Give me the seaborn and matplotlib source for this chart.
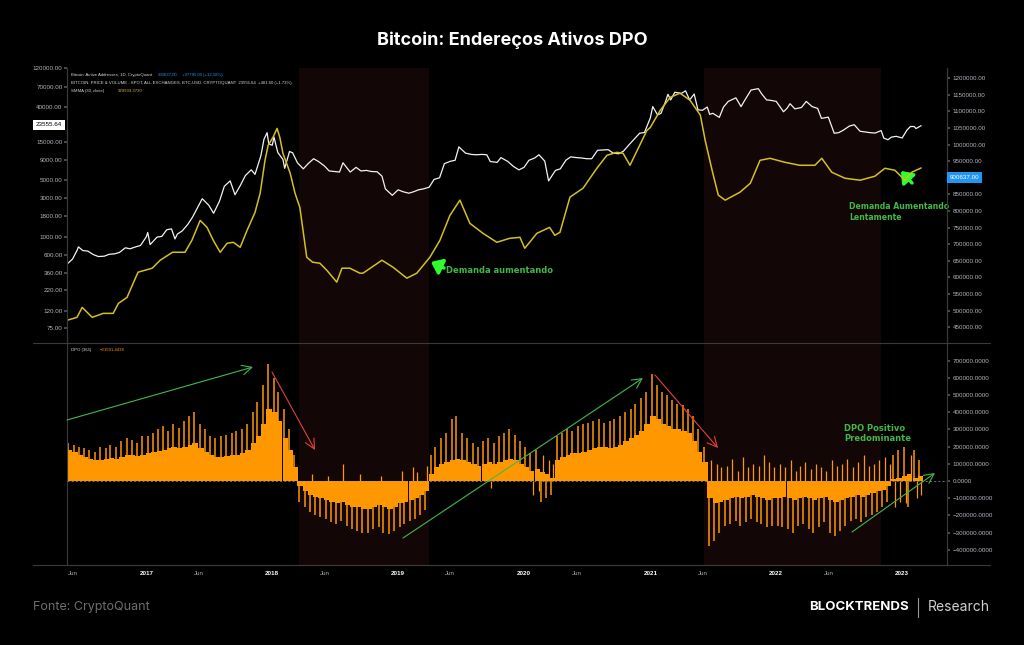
import numpy as np
import pandas as pd
import matplotlib
matplotlib.use("Agg")
import matplotlib.pyplot as plt
import matplotlib.dates as mdates
import matplotlib.ticker as mticker
from matplotlib.lines import Line2D
import seaborn as sns

# --- BTC price (white line, left log axis) ---
price_dates = [
    "2016-05-15", "2016-06-01", "2016-06-15", "2016-06-18", "2016-07-01", "2016-07-15", "2016-08-01", "2016-08-15",
    "2016-09-01", "2016-09-15", "2016-10-01", "2016-10-15", "2016-11-01", "2016-11-15", "2016-12-01", "2016-12-15",
    "2017-01-01", "2017-01-05", "2017-01-12", "2017-02-01", "2017-02-15", "2017-03-01", "2017-03-15", "2017-03-25",
    "2017-04-01", "2017-04-15", "2017-05-01", "2017-05-15", "2017-06-01", "2017-06-12", "2017-07-01", "2017-07-15",
    "2017-08-01", "2017-08-15", "2017-09-01", "2017-09-15", "2017-10-01", "2017-10-15", "2017-11-01", "2017-11-12",
    "2017-11-29", "2017-12-08", "2017-12-17", "2017-12-22",
    "2018-01-01", "2018-01-06", "2018-01-17", "2018-02-01", "2018-02-06", "2018-02-20", "2018-03-01", "2018-03-15",
    "2018-04-01", "2018-04-15", "2018-05-01", "2018-05-15", "2018-06-01", "2018-06-15", "2018-07-01", "2018-07-15",
    "2018-07-25", "2018-08-15", "2018-09-01", "2018-09-15", "2018-10-01", "2018-10-15", "2018-11-01", "2018-11-15",
    "2018-11-25", "2018-12-15",
    "2019-01-01", "2019-01-15", "2019-02-01", "2019-02-15", "2019-03-01", "2019-03-15", "2019-04-01", "2019-04-15",
    "2019-05-01", "2019-05-15", "2019-06-01", "2019-06-15", "2019-06-26", "2019-07-15", "2019-08-01", "2019-08-15",
    "2019-09-01", "2019-09-15", "2019-09-25", "2019-10-15", "2019-10-26", "2019-11-15", "2019-12-01", "2019-12-17",
    "2020-01-01", "2020-01-15", "2020-02-01", "2020-02-13", "2020-03-01", "2020-03-12", "2020-04-01", "2020-04-15",
    "2020-05-01", "2020-05-15", "2020-06-01", "2020-06-15", "2020-07-01", "2020-07-15", "2020-08-01", "2020-08-15",
    "2020-09-01", "2020-09-15", "2020-10-01", "2020-10-15", "2020-11-01", "2020-11-15", "2020-12-01", "2020-12-15",
    "2021-01-01", "2021-01-08", "2021-01-22", "2021-02-01", "2021-02-15", "2021-02-21", "2021-03-01", "2021-03-13",
    "2021-04-01", "2021-04-13", "2021-04-25", "2021-05-08", "2021-05-19", "2021-06-01", "2021-06-15", "2021-06-22",
    "2021-07-01", "2021-07-20", "2021-08-01", "2021-08-15", "2021-09-06", "2021-09-21", "2021-10-01", "2021-10-20",
    "2021-11-10", "2021-11-20", "2021-12-04", "2021-12-15",
    "2022-01-01", "2022-01-22", "2022-02-01", "2022-02-10", "2022-02-24", "2022-03-15", "2022-03-29", "2022-04-15",
    "2022-05-01", "2022-05-12", "2022-06-01", "2022-06-18", "2022-07-01", "2022-07-15", "2022-08-01", "2022-08-15",
    "2022-09-01", "2022-09-15", "2022-10-01", "2022-10-15", "2022-11-01", "2022-11-09", "2022-11-21", "2022-12-01",
    "2022-12-15",
    "2023-01-01", "2023-01-15", "2023-01-25", "2023-02-05", "2023-02-10", "2023-02-25",
]
price_usd = [
    455, 530, 690, 750, 675, 665, 600, 570, 575, 607, 615, 640, 730, 710, 750, 780,
    1000, 1130, 800, 990, 1010, 1220, 1250, 940, 1080, 1180, 1420, 1750, 2400, 2950, 2450, 1950,
    2750, 4200, 4900, 3300, 4350, 5700, 6700, 5900, 10000, 16000, 19300, 14000,
    13500, 17000, 11000, 9000, 7000, 11300, 10900, 8200, 6900, 8000, 9200, 8500, 7500, 6500, 6400, 6300,
    8200, 6300, 7200, 6500, 6600, 6400, 6350, 5600, 3900, 3250,
    3800, 3600, 3450, 3600, 3800, 3900, 4100, 5100, 5350, 8000, 8550, 8800, 12900, 10800, 10400, 10300,
    10400, 10300, 8500, 8300, 9500, 8500, 7400, 6700,
    7200, 8800, 9400, 10300, 8600, 4900, 6600, 6900, 8800, 9700, 9500, 9400, 9200, 9200, 11700, 11800,
    11900, 10800, 10600, 11400, 13800, 16000, 19000, 19400,
    29400, 40500, 32000, 33500, 48000, 57500, 49000, 61000, 59000, 63500, 49000, 58000, 37000, 36500, 40000, 32500,
    33500, 29800, 40000, 47000, 52000, 40500, 48000, 65000, 67500, 58000, 49000, 48500,
    47000, 35000, 38500, 44000, 38000, 39500, 47000, 40500, 38500, 29000, 30000, 19000, 19300, 20800, 23300, 24200,
    20100, 19700, 19300, 19100, 20500, 16500, 15800, 17000, 17400,
    16600, 20800, 23000, 23000, 21700, 23555.64,
]

# --- Active addresses SMMA(30) (yellow line, right axis) ---
addr_dates = [
    "2016-05-16", "2016-06-14", "2016-06-29", "2016-07-28", "2016-08-29", "2016-09-27", "2016-10-12", "2016-11-06",
    "2016-11-24", "2016-12-08", "2017-01-18", "2017-02-10", "2017-03-18", "2017-04-23", "2017-05-13", "2017-06-06",
    "2017-06-26", "2017-07-14", "2017-08-03", "2017-08-23", "2017-09-10", "2017-09-30", "2017-10-20", "2017-11-12",
    "2017-11-27", "2017-12-11", "2017-12-20", "2018-01-03", "2018-01-15", "2018-01-23", "2018-02-01", "2018-02-22",
    "2018-03-08", "2018-03-22", "2018-04-11", "2018-04-28", "2018-05-19", "2018-06-08", "2018-07-07", "2018-07-22",
    "2018-08-14", "2018-09-12", "2018-09-21", "2018-11-15", "2018-12-17", "2019-01-26", "2019-02-24", "2019-04-03",
    "2019-05-02", "2019-05-31", "2019-06-29", "2019-07-28", "2019-09-04", "2019-10-14", "2019-11-20", "2019-12-20",
    "2020-01-03", "2020-02-07", "2020-03-15", "2020-03-30", "2020-04-14", "2020-05-13", "2020-06-20", "2020-07-30",
    "2020-08-28", "2020-09-26", "2020-10-14", "2020-11-03", "2020-11-24", "2020-12-22", "2021-01-01", "2021-01-30",
    "2021-02-28", "2021-03-28", "2021-04-26", "2021-05-26", "2021-06-09", "2021-06-29", "2021-07-17", "2021-08-06",
    "2021-09-18", "2021-10-18", "2021-11-15", "2021-12-14", "2022-01-26", "2022-03-10", "2022-04-23", "2022-05-13",
    "2022-06-11", "2022-07-19", "2022-09-01", "2022-10-14", "2022-11-12", "2022-12-11", "2023-01-09", "2023-01-29",
    "2023-02-25",
]
addr_sma30 = [
    471000, 480000, 510000, 480000, 492000, 492000, 522000, 540000,
    583000, 616000, 628000, 652000, 676000, 676000, 712000, 772000,
    751000, 712000, 676000, 703000, 706000, 691000, 742000, 796000,
    854000, 953000, 998000, 1022000, 1049000, 1022000, 974000, 914000,
    854000, 811000, 661000, 646000, 643000, 622000, 586000, 628000,
    628000, 613000, 613000, 652000, 631000, 598000, 613000, 661000,
    712000, 787000, 833000, 763000, 733000, 706000, 718000, 721000,
    688000, 733000, 751000, 727000, 736000, 842000, 869000, 929000,
    968000, 977000, 974000, 938000, 983000, 1043000, 1052000, 1104000,
    1143000, 1155000, 1134000, 1089000, 1013000, 923000, 848000, 833000,
    857000, 884000, 953000, 959000, 947000, 938000, 938000, 959000,
    917000, 899000, 893000, 905000, 929000, 923000, 893000, 917000,
    929933,
]

# --- DPO(365), semi-monthly blocks (thousands): body level, main spike, counter spike ---
dpo_start, dpo_end = "2016-05-15", "2023-02-15"
dpo_body_k = [
    180, 170, 150, 140, 130, 120, 125, 130, 135, 130, 140, 150, 150, 145, 150,
    160, 170, 175, 180, 190, 200, 190, 200, 210, 220, 190, 170, 150, 140, 140, 145, 150, 150, 160, 180, 220, 260, 330, 420,
    400, 350, 250, 180, 80, -30, -60, -80, -90, -100, -110, -120, -130, -120, -140, -150, -150, -160, -160, -150, -140, -150, -160, -150,
    -130, -120, -110, -100, -80, -60, 40, 80, 100, 110, 120, 130, 120, 110, 100, 90, 100, 110, 100, 110, 120, 130, 120, 100,
    80, 60, 70, 50, 40, 20, 120, 140, 150, 160, 160, 170, 180, 190, 200, 200, 190, 200, 210, 230, 250, 270, 290, 330,
    380, 360, 330, 320, 300, 300, 290, 280, 230, 170, 110, -100, -130, -120, -110, -100, -90, -100, -90, -80, -90, -100, -110, -100,
    -100, -90, -100, -110, -100, -90, -100, -110, -100, -90, -110, -120, -110, -100, -90, -80, -90, -80, -70, -60, -50, -30, 10, 20,
    30, 40, 20, 30,
]
dpo_spike_k = [
    220, 210, 200, 190, 180, 170, 200, 190, 210, 200, 230, 250, 240, 220, 260,
    260, 280, 300, 320, 290, 330, 310, 350, 380, 400, 330, 300, 260, 250, 260, 270, 280, 290, 300, 330, 400, 460, 560, 680,
    600, 520, 420, 300, 150, -120, -150, -180, -200, -210, -220, -240, -250, -230, -260, -280, -290, -300, -300, -280, -270, -300, -310, -290,
    -270, -250, -230, -220, -200, -170, 150, 200, 250, 280, 360, 380, 280, 250, 220, 200, 230, 250, 220, 260, 280, 300, 270, 230,
    200, 160, 180, -120, -100, -80, 260, 280, 300, 290, 320, 330, 340, 350, 360, 340, 350, 360, 380, 400, 420, 450, 480, 520,
    620, 560, 520, 500, 470, 450, 440, 420, 380, 300, 200, -380, -350, -300, -260, -250, -230, -260, -240, -220, -240, -250, -270, -260,
    -260, -270, -280, -300, -260, -250, -280, -300, -270, -240, -300, -320, -290, -260, -230, -220, -240, -210, -200, -180, -150, -120, 150, 180,
    200, -150, 180, 120,
]
dpo_counter_k = [
    0, 0, 0, 0, 0, 0, 0, 0, 0, 0, 0, 0, 0, 0, 0,
    0, 0, 0, 0, 0, 0, 0, 0, 0, 0, 0, 0, 0, 0, 0, 0, 0, 0, 0, 0, 0, 0, 0, 0,
    0, 0, 0, 0, 0, 0, 0, 40, 0, 0, 30, 0, 0, 100, 0, 0, 40, 0, 0, 0, 30, 0, 0, 0,
    60, 0, 80, 50, 0, 90, 0, 0, 0, 0, 0, 0, 0, 0, 0, 0, 0, -40, 0, 0, 0, 0, 0, 0,
    0, -80, -60, 150, 120, 100, 0, 0, 0, 0, 0, 0, 0, 0, 0, 0, 0, 0, 0, 0, 0, 0, 0, 0,
    0, 0, 0, 0, 0, 0, 0, 0, 0, 0, 0, 120, 100, 80, 90, 130, 60, 140, 80, 100, 90, 150, 110, 80,
    100, 80, 120, 60, 90, 110, 70, 100, 80, 60, 120, 90, 100, 130, 80, 110, 150, 90, 100, 120, 140, 100, -150, -120,
    -130, 150, -100, -80,
]

bear_periods = [("2018-03-19", "2019-04-01"), ("2021-06-06", "2022-10-31")]
left_ticks = [75, 120, 220, 360, 600, 1000, 1800, 3000, 5000, 9000, 15000, 40000, 70000, 120000]
# 900000 sits under the blue last-value box, so its label is not shown
right_ticks = [v for v in range(450000, 1200001, 50000) if v != 900000]
dpo_ticks = list(range(-400000, 700001, 100000))
x_tick_dates = ["2016-06-01"] + [d for y in range(2017, 2023) for d in (f"{y}-01-01", f"{y}-06-01")] + ["2023-01-01"]
x_tick_labels = ["Jun"] + [l for y in range(2017, 2023) for l in (str(y), "Jun")] + ["2023"]

BG = "black"
ORANGE = "#ff9800"
YELLOW = "#d3c01f"
GREEN = "#43b649"
BRIGHT = "#2cff2c"
RED = "#e5413a"
TICK = "#b2b5be"
EDGE = "#3a3a3a"
SHADE = "#120606"

sns.set_theme(style="dark", rc={"figure.facecolor": BG, "axes.facecolor": BG,
                                "axes.edgecolor": EDGE, "text.color": "white"})
plt.rcParams["font.family"] = ["Liberation Sans", "DejaVu Sans"]

W, H = 1024, 645
fig = plt.figure(figsize=(W / 100, H / 100), dpi=100)


def fp(x, y):
    return (x, H - y)


ax_top = fig.add_axes([67 / W, 1 - 343 / H, 880 / W, 275 / H])
ax_bot = fig.add_axes([67 / W, 1 - 565 / H, 880 / W, 222 / H])
ax_r = ax_top.twinx()

x0 = mdates.date2num(pd.Timestamp("2016-05-16"))
x1 = mdates.date2num(pd.Timestamp("2023-05-11"))

for a, b in bear_periods:
    for ax in (ax_top, ax_bot):
        ax.axvspan(mdates.date2num(pd.Timestamp(a)), mdates.date2num(pd.Timestamp(b)),
                   color=SHADE, lw=0, zorder=0)

# top panel lines
ax_top.set_yscale("log")
sns.lineplot(x=mdates.date2num(pd.to_datetime(price_dates)), y=price_usd, ax=ax_top,
             color="#f2f2f2", linewidth=0.9)
sns.lineplot(x=mdates.date2num(pd.to_datetime(addr_dates)), y=addr_sma30, ax=ax_r,
             color=YELLOW, linewidth=1.1)

# DPO bars
t = mdates.date2num(pd.date_range(dpo_start, dpo_end, freq="SMS"))
body = np.array(dpo_body_k) * 1000
spike = np.array(dpo_spike_k) * 1000
counter = np.array(dpo_counter_k) * 1000
ax_bot.bar(t + 7.5, body, width=16, color=ORANGE, linewidth=0, zorder=2)
ax_bot.vlines(t + 4, 0, spike, color=ORANGE, lw=1.1, zorder=2)
ax_bot.vlines(t + 11, 0, counter, color=ORANGE, lw=0.9, zorder=2)
ax_bot.axhline(0, color="#9a9a9a", lw=0.5, ls=(0, (3, 3)), zorder=3)

# axes formatting
for ax in (ax_top, ax_r, ax_bot):
    ax.set_xlim(x0, x1)
    ax.set_xlabel("")
    ax.set_ylabel("")
    ax.grid(False)
    for s in ax.spines.values():
        s.set_color(EDGE)
        s.set_linewidth(0.8)
    ax.spines["top"].set_visible(False)
for ax in (ax_top, ax_r):
    ax.spines["bottom"].set_visible(False)
    ax.tick_params(axis="x", bottom=False, labelbottom=False)

ax_top.set_ylim(48.7, 121500)
ax_top.yaxis.set_major_locator(mticker.FixedLocator(left_ticks))
ax_top.yaxis.set_minor_locator(mticker.NullLocator())
ax_top.yaxis.set_major_formatter(mticker.FuncFormatter(lambda v, p: f"{v:.2f}"))
ax_top.tick_params(axis="y", labelsize=4.5, length=2, pad=1.2, colors="#555555", labelcolor=TICK)

ax_r.set_ylim(402700, 1231000)
ax_r.yaxis.set_major_locator(mticker.FixedLocator(right_ticks))
ax_r.yaxis.set_major_formatter(mticker.FuncFormatter(lambda v, p: f"{v:.2f}"))
ax_r.tick_params(axis="y", labelsize=4.5, length=2.5, pad=1.5, colors="#555555", labelcolor=TICK)

ax_bot.set_ylim(-488000, 802000)
ax_bot.yaxis.tick_right()
ax_bot.yaxis.set_major_locator(mticker.FixedLocator(dpo_ticks))
ax_bot.yaxis.set_major_formatter(mticker.FuncFormatter(
    lambda v, p: f"{v:.4f}" if v >= 0 else "\u2212" + f"{-v:.4f}"))
ax_bot.tick_params(axis="y", left=False, labelleft=False, right=True, labelright=True,
                   labelsize=4.5, length=2.5, pad=1.5, colors="#555555", labelcolor=TICK)
ax_bot.set_xticks(mdates.date2num(pd.to_datetime(x_tick_dates)))
ax_bot.set_xticklabels(x_tick_labels)
ax_bot.tick_params(axis="x", labelsize=4.5, length=2, pad=2, colors="#555555", labelcolor=TICK)
for lbl in ax_bot.get_xticklabels():
    if lbl.get_text() != "Jun":
        lbl.set_fontweight("bold")
        lbl.set_color("white")

# panel separator / bottom rule
fig.add_artist(Line2D([33 / W, 990 / W], [1 - 343 / H] * 2, color=EDGE, lw=0.8))
fig.add_artist(Line2D([33 / W, 990 / W], [1 - 565 / H] * 2, color=EDGE, lw=0.8))

# legend texts
lg = dict(fontsize=3.1, va="center", ha="left", xycoords="figure pixels")
ax_top.annotate("Bitcoin: Active Addresses, 1D, CryptoQuant", fp(71, 75), color="#d8d8d8", **lg)
ax_top.annotate("900637.00", fp(158, 75), color="#2196f3", **lg)
ax_top.annotate("+97795.00 (+12.18%)", fp(182, 75), color="#2196f3", **lg)
ax_top.annotate("BITCOIN: PRICE & VOLUME - SPOT, ALL EXCHANGES, BTC-USD, CRYPTOQUANT  23555.64  +401.60 (+1.73%)",
                fp(71, 83), color="#d8d8d8", **lg)
ax_top.annotate("SMMA (30, close)", fp(71, 91), color="#d8d8d8", **lg)
ax_top.annotate("929933.3730", fp(118, 91), color=YELLOW, **lg)
ax_bot.annotate("DPO (365)", fp(71, 350), color="#d8d8d8", **lg)
ax_bot.annotate("\u221221591.4438", fp(100, 350), color=ORANGE, **lg)

# last-value boxes
fig.text(49 / W, 1 - 125 / H, "23555.64", fontsize=4.5, color="black", ha="center", va="center",
         bbox=dict(boxstyle="square,pad=0.45", fc="white", ec="none"))
fig.text(950 / W, 1 - 177.8 / H, "900637.00", fontsize=4.5, color="white", ha="left", va="center",
         bbox=dict(boxstyle="square,pad=0.45", fc="#2196f3", ec="none"))

# annotations, top panel
big_arrow = dict(arrowstyle="-|>,head_width=0.55,head_length=0.7", color=BRIGHT, lw=2.4,
                 mutation_scale=9, shrinkA=0, shrinkB=0)
ax_top.annotate("", xy=fp(431, 262), xytext=fp(444, 268), xycoords="figure pixels", arrowprops=big_arrow)
ax_top.annotate("Demanda aumentando", fp(446, 270.5), xycoords="figure pixels", fontsize=6,
                family="DejaVu Sans", weight="bold", color=GREEN, va="center", ha="left")
ax_top.annotate("", xy=fp(901, 171), xytext=fp(912, 183), xycoords="figure pixels", arrowprops=big_arrow)
ax_top.annotate("Demanda Aumentando\nLentamente", fp(849, 212), xycoords="figure pixels",
                fontsize=5.6, family="DejaVu Sans", weight="bold", color=GREEN, va="center", ha="left",
                linespacing=1.2)

# annotations, DPO panel
arrows = [((67, 420), (253, 367), GREEN), ((272, 372), (315, 450), RED),
          ((403, 538), (643, 378), GREEN), ((655, 375), (718, 448), RED),
          ((852, 532), (935, 473), GREEN)]
for (xa, ya), (xb, yb), c in arrows:
    ax_bot.annotate("", xy=fp(xb, yb), xytext=fp(xa, ya), xycoords="figure pixels",
                    arrowprops=dict(arrowstyle="->,head_width=0.35,head_length=0.7", color=c, lw=0.8,
                                    mutation_scale=10, shrinkA=0, shrinkB=0))
ax_bot.annotate("DPO Positivo\nPredominante", fp(844, 433.5), xycoords="figure pixels", fontsize=6,
                family="DejaVu Sans", weight="bold", color=GREEN, va="center", ha="left", linespacing=1.15)

# title and footer
fig.text(0.5, 1 - 40 / H, "Bitcoin: Endereços Ativos DPO", fontsize=13, family="Inter", weight="bold",
         color="white", ha="center", va="center")
fig.text(33 / W, 1 - 607 / H, "Fonte: CryptoQuant", fontsize=9, family="Inter", color="#6e6e6e",
         ha="left", va="center")
fig.text(909 / W, 1 - 607 / H, "BLOCKTRENDS", fontsize=9.5, family="Inter", weight="bold", color="white",
         ha="right", va="center")
fig.add_artist(Line2D([918 / W] * 2, [1 - 598 / H, 1 - 617 / H], color="#9a9a9a", lw=0.8))
fig.text(928 / W, 1 - 607 / H, "Research", fontsize=10, family="Inter", color="#d0d0d0",
         ha="left", va="center")

fig.savefig("out.png", dpi=100, facecolor=BG)
